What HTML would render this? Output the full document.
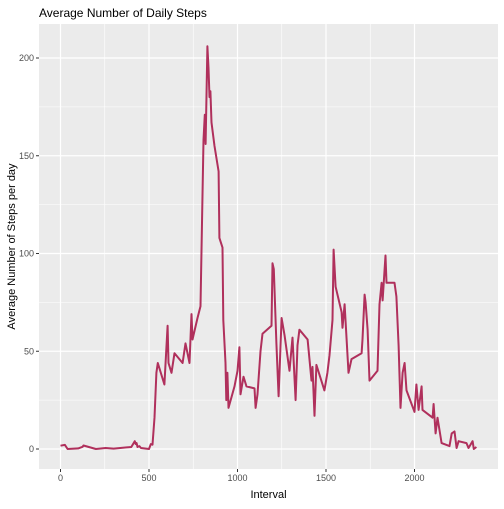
<!DOCTYPE html>
<html><head><meta charset="utf-8"><style>
body{margin:0;background:#fff;font-family:"Liberation Sans",sans-serif}
</style></head><body>
<svg id="c" width="504" height="504" xmlns="http://www.w3.org/2000/svg"></svg>
<script>
const intervals=[0,25,40,100,125,130,200,255,300,400,420,425,430,435,445,455,500,510,520,531,542,550,587,605,610,627,644,690,706,729,740,746,774,791,802,808,815,820,830,836,842,847,853,870,893,898,915,920,932,937,943,949,983,1000,1011,1017,1034,1051,1096,1102,1113,1130,1141,1192,1198,1205,1220,1232,1249,1266,1294,1311,1328,1339,1350,1396,1418,1424,1435,1446,1491,1508,1520,1537,1543,1554,1588,1593,1605,1616,1627,1644,1701,1706,1718,1724,1735,1746,1791,1802,1814,1820,1836,1842,1887,1898,1910,1921,1933,1944,1955,2000,2011,2023,2040,2045,2102,2108,2119,2130,2153,2198,2210,2226,2238,2249,2294,2305,2328,2335,2350];
const steps=[1.7,2.1,0,0.3,1.1,1.8,0,0.5,0.2,1,4,2.5,3,1,1.5,0.5,0,2.5,2.2,16,39,44,33,63,44,39,49,44,54,44,69,56,67,73,130,158,171,156,206,195,180,183,167,155,142,108,103,66,44,25,39,21,32,40,52,28,37,32,31,21,28,50,59,63,95,92,54,27,67,58,40,57,25,53,61,56,35,42,17,43,30,39,48,66,102,83,70,62,74,57,39,46,49,56,79,75,61,35,40,74,85,76,99,85,85,78,53,21,39,44,30,19,33,20,32,20,16,23,8,16,3,1.5,8,9,0.5,4,3,0.5,4,0,1];
const xTicks=[0,500,1000,1500,2000];
const yTicks=[0,50,100,150,200];
const NS="http://www.w3.org/2000/svg";
const svg=document.getElementById('c');
const L=39,R=498,T=24,B=469;
const X=v=>60.5+v*(88.5/500);
const Y=v=>449-v*(391/200);
function el(t,a,p){const e=document.createElementNS(NS,t);for(const k in a)e.setAttribute(k,a[k]);(p||svg).appendChild(e);return e;}
const bg=el('rect',{x:L,y:T,width:R-L,height:B-T,fill:'#ebebeb'});


const minorX=xTicks.slice(0,-1).map(v=>v+250).concat([2500]);
minorX.forEach(v=>{if(X(v)<R){const l=el('line',{x1:X(v),x2:X(v),y1:T,y2:B,stroke:'#fff','stroke-width':0.6});}});
yTicks.slice(0,-1).map(v=>v+25).forEach(v=>{const l=el('line',{x1:L,x2:R,y1:Y(v),y2:Y(v),stroke:'#fff','stroke-width':0.6});});
xTicks.forEach(v=>{
const g=el('line',{x1:X(v),x2:X(v),y1:T,y2:B,stroke:'#fff','stroke-width':1.2});


el('line',{x1:X(v),x2:X(v),y1:B,y2:B+3,stroke:'#333','stroke-width':1});
const t=el('text',{x:X(v),y:B+12,'text-anchor':'middle','font-size':9,fill:'#4d4d4d'});t.textContent=v;


});
yTicks.forEach(v=>{
const g=el('line',{x1:L,x2:R,y1:Y(v),y2:Y(v),stroke:'#fff','stroke-width':1.2});


el('line',{x1:L-3,x2:L,y1:Y(v),y2:Y(v),stroke:'#333','stroke-width':1});
const t=el('text',{x:L-5,y:Y(v)+3,'text-anchor':'end','font-size':9,fill:'#4d4d4d'});t.textContent=v;


});
const d=intervals.map((v,i)=>(i?'L':'M')+X(v).toFixed(1)+','+Y(steps[i]).toFixed(1)).join('');
const p=el('path',{d:d,fill:'none',stroke:'#b0305c','stroke-width':2,'stroke-linejoin':'round'});


const ti=el('text',{x:39,y:17,'font-size':12,fill:'#000'});ti.textContent='Average Number of Daily Steps';


const xt=el('text',{x:(L+R)/2,y:498,'text-anchor':'middle','font-size':11,fill:'#000'});xt.textContent='Interval';


const yt=el('text',{x:0,y:0,'text-anchor':'middle','font-size':11,fill:'#000',transform:'translate(15,'+((T+B)/2)+') rotate(-90)'});yt.textContent='Average Number of Steps per day';


</script>
</body></html>
